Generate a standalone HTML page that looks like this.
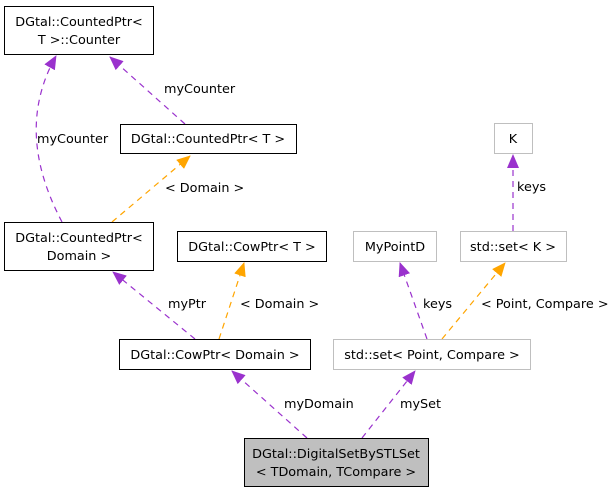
<!DOCTYPE html>
<html><head><meta charset="utf-8"><style>
html,body{margin:0;padding:0;background:#fff;}
svg{display:block;}
text{font-family:"DejaVu Sans","Liberation Sans",sans-serif;font-size:12.8px;fill:#000;}
</style></head><body>
<svg width="615" height="493" viewBox="0 0 615 493" xmlns="http://www.w3.org/2000/svg">
<defs>
<marker id="ap" markerWidth="14" markerHeight="12" refX="13" refY="6" orient="auto" markerUnits="userSpaceOnUse"><path d="M0,0 L14,6 L0,12 z" fill="#9a32cd"/></marker>
<marker id="ao" markerWidth="14" markerHeight="12" refX="13" refY="6" orient="auto" markerUnits="userSpaceOnUse"><path d="M0,0 L14,6 L0,12 z" fill="#ffa500"/></marker>
</defs>
<g fill="none" stroke-width="1.2" stroke-dasharray="6,5">
<path d="M62,222 C40,180 20,120 56,56" stroke="#9a32cd" marker-end="url(#ap)"/>
<path d="M185,124 L110,57" stroke="#9a32cd" marker-end="url(#ap)"/>
<path d="M112,222 L190,156" stroke="#ffa500" marker-end="url(#ao)"/>
<path d="M195,339 L113,272" stroke="#9a32cd" marker-end="url(#ap)"/>
<path d="M219,339 L244,263" stroke="#ffa500" marker-end="url(#ao)"/>
<path d="M307,438 L232,371" stroke="#9a32cd" marker-end="url(#ap)"/>
<path d="M362,438 L415,371" stroke="#9a32cd" marker-end="url(#ap)"/>
<path d="M427,339 L400,263" stroke="#9a32cd" marker-end="url(#ap)"/>
<path d="M442,339 L505,263" stroke="#ffa500" marker-end="url(#ao)"/>
<path d="M513,231 L513,155" stroke="#9a32cd" marker-end="url(#ap)"/>
</g>
<g stroke-width="1">
<rect x="4.5" y="6.5" width="149" height="48" fill="#fff" stroke="#000"/>
<rect x="120.5" y="124.5" width="176" height="29" fill="#fff" stroke="#000"/>
<rect x="4.5" y="222.5" width="149" height="48" fill="#fff" stroke="#000"/>
<rect x="177.5" y="231.5" width="149" height="30" fill="#fff" stroke="#000"/>
<rect x="119.5" y="339.5" width="191" height="30" fill="#fff" stroke="#000"/>
<rect x="333.5" y="339.5" width="197" height="30" fill="#fff" stroke="#bfbfbf"/>
<rect x="353.5" y="231.5" width="83" height="30" fill="#fff" stroke="#bfbfbf"/>
<rect x="460.5" y="231.5" width="106" height="30" fill="#fff" stroke="#bfbfbf"/>
<rect x="494.5" y="123.5" width="38" height="30" fill="#fff" stroke="#bfbfbf"/>
<rect x="244.5" y="438.5" width="184" height="48" fill="#bfbfbf" stroke="#000"/>
</g>
<g text-anchor="middle">
<text x="79" y="26">DGtal::CountedPtr&lt;</text>
<text x="79" y="44">T &gt;::Counter</text>
<text x="208" y="143">DGtal::CountedPtr&lt; T &gt;</text>
<text x="79" y="242">DGtal::CountedPtr&lt;</text>
<text x="79" y="260">Domain &gt;</text>
<text x="252" y="251">DGtal::CowPtr&lt; T &gt;</text>
<text x="215" y="359">DGtal::CowPtr&lt; Domain &gt;</text>
<text x="432" y="359">std::set&lt; Point, Compare &gt;</text>
<text x="395" y="251">MyPointD</text>
<text x="513" y="251">std::set&lt; K &gt;</text>
<text x="513" y="143">K</text>
<text x="336" y="458">DGtal::DigitalSetBySTLSet</text>
<text x="336" y="476">&lt; TDomain, TCompare &gt;</text>
</g>
<g>
<text x="164" y="93">myCounter</text>
<text x="37" y="143">myCounter</text>
<text x="165" y="192">&lt; Domain &gt;</text>
<text x="168" y="308">myPtr</text>
<text x="240" y="308">&lt; Domain &gt;</text>
<text x="284" y="408">myDomain</text>
<text x="400" y="408">mySet</text>
<text x="423" y="308">keys</text>
<text x="481" y="308">&lt; Point, Compare &gt;</text>
<text x="517" y="191">keys</text>
</g>
</svg>
</body></html>
